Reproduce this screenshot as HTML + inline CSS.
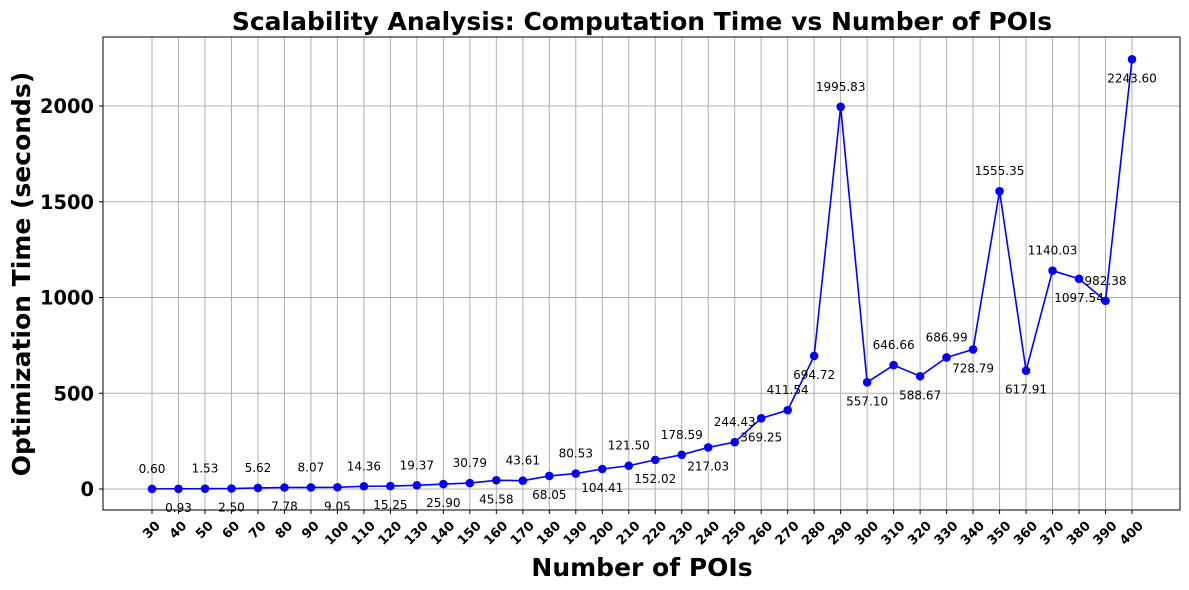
<!DOCTYPE html>
<html><head><meta charset="utf-8"><style>
body{margin:0;background:#fff;}
svg{display:block;font-family:"DejaVu Sans","Liberation Sans",sans-serif;}
</style></head><body>
<svg id="chart" width="1189" height="590" xmlns="http://www.w3.org/2000/svg">
<rect width="1189" height="590" fill="#fff"/>
<text x="642" y="30" text-anchor="middle" font-size="25" font-weight="bold">Scalability Analysis: Computation Time vs Number of POIs</text>
<g id="grid"></g>
<g id="xticks"></g>
<g id="yticks"></g>
<g id="series"></g>
<g id="labels"></g>
<rect x="103" y="37" width="1077" height="473" fill="none" stroke="#000" stroke-width="1"/>
<text x="642" y="576" text-anchor="middle" font-size="25" font-weight="bold">Number of POIs</text>
<text transform="translate(30,274) rotate(-90)" text-anchor="middle" font-size="25" font-weight="bold">Optimization Time (seconds)</text>
</svg>
<script>
const categories=[30,40,50,60,70,80,90,100,110,120,130,140,150,160,170,180,190,200,210,220,230,240,250,260,270,280,290,300,310,320,330,340,350,360,370,380,390,400];
const times=[0.60,0.93,1.53,2.50,5.62,7.78,8.07,9.05,14.36,15.25,19.37,25.90,30.79,45.58,43.61,68.05,80.53,104.41,121.50,152.02,178.59,217.03,244.43,369.25,411.54,694.72,1995.83,557.10,646.66,588.67,686.99,728.79,1555.35,617.91,1140.03,1097.54,982.38,2243.60];
const yTicks=[0,500,1000,1500,2000];
const NS="http://www.w3.org/2000/svg";
const xS=v=>152+(v-30)*(1132-152)/370;
const yS=v=>489-v*(489-106)/2000;
function mk(tag,attrs,parent){const e=document.createElementNS(NS,tag);for(const k in attrs)e.setAttribute(k,attrs[k]);parent.appendChild(e);return e;}
const grid=document.getElementById('grid'),xt=document.getElementById('xticks'),yt=document.getElementById('yticks'),ser=document.getElementById('series'),lab=document.getElementById('labels');
categories.forEach(c=>{
  const x=xS(c);
  const g=mk('line',{x1:x,x2:x,y1:37,y2:510,stroke:'#b0b0b0','stroke-width':1},grid);
  
  
  mk('line',{x1:x,x2:x,y1:510,y2:514,stroke:'#000'},xt);
  const s=String(c);
  const cy=519+(s.length*9*0.707+10)/2;
  const t=mk('text',{transform:`translate(${x},${cy}) rotate(-45)`,'text-anchor':'middle','dominant-baseline':'central','font-size':13,'font-weight':'bold'},xt);
  t.textContent=s;
  
  
});
yTicks.forEach(v=>{
  const y=yS(v);
  const g=mk('line',{x1:103,x2:1180,y1:y,y2:y,stroke:'#b0b0b0','stroke-width':1},grid);
  
  
  mk('line',{x1:99,x2:103,y1:y,y2:y,stroke:'#000'},yt);
  const t=mk('text',{x:94,y:y+7,'text-anchor':'end','font-size':19.4,'font-weight':'bold'},yt);
  t.textContent=v;
  
  
});
const pts=categories.map((c,i)=>xS(c)+','+yS(times[i])).join(' ');
const pl=mk('polyline',{points:pts,fill:'none',stroke:'#0000ff','stroke-width':1.6},ser);


categories.forEach((c,i)=>{
  const x=xS(c),y=yS(times[i]);
  const m=mk('circle',{cx:x,cy:y,r:4.3,fill:'#0000ff'},ser);
  
  
  const ly=i%2===0?y-16:y+23;
  const t=mk('text',{x:x,y:ly,'text-anchor':'middle','font-size':12},lab);
  t.textContent=times[i].toFixed(2);
  
  
});
</script>
</body></html>
